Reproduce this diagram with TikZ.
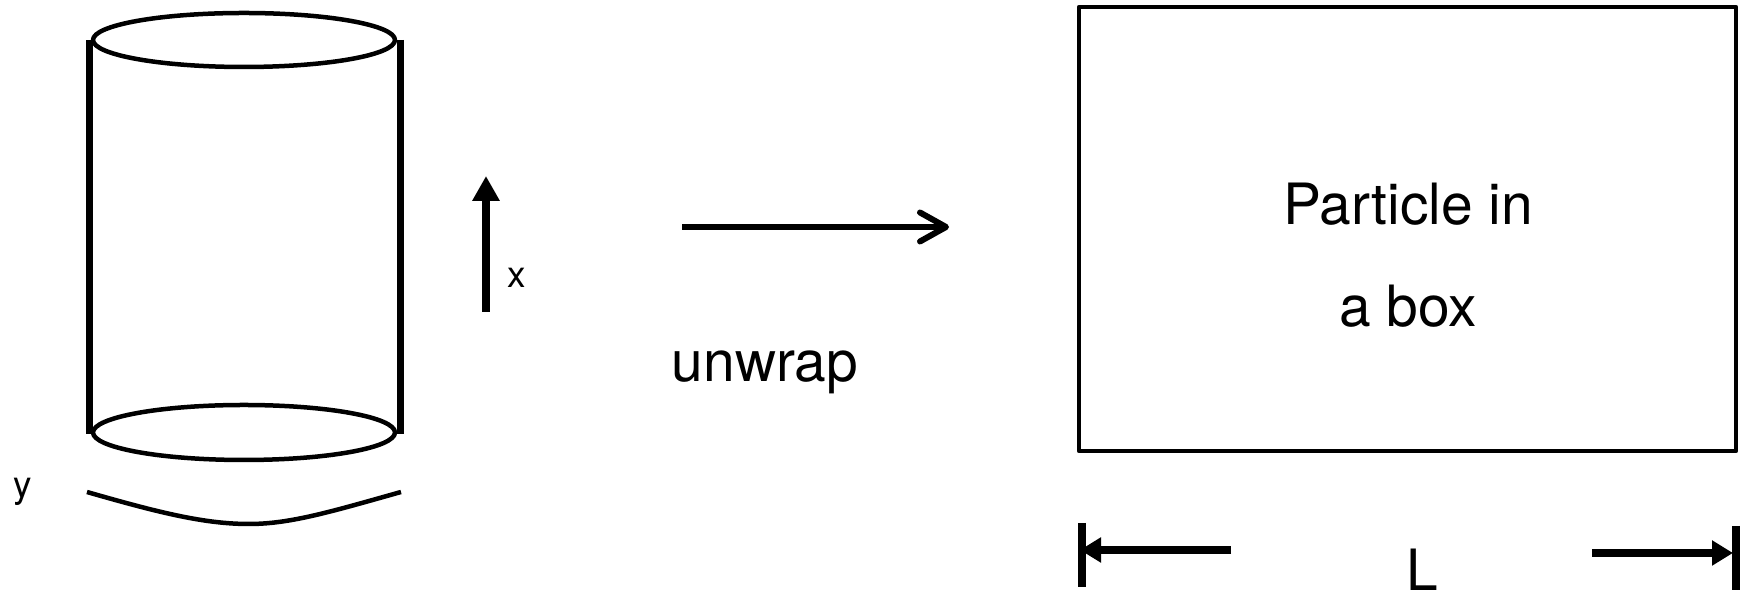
\documentclass[tikz,border=0pt]{standalone}
\usepackage{fontspec}
\setmainfont{TeX Gyre Heros}
\usetikzlibrary{arrows.meta}

\begin{document}
\begin{tikzpicture}[line join=round,
        rim/.style={line width=0.45mm},
        wall/.style={line width=0.75mm},
        big/.style={font=\fontsize{16.2}{19}\selectfont, inner sep=0pt},
        small/.style={font=\fontsize{10.5}{12}\selectfont, inner sep=0pt}]
        \useasboundingbox (0,0) rectangle (17.46,6.04);

        % cylinder
        \draw[rim] (2.44,5.64) ellipse (1.51 and 0.27);
        \draw[rim] (2.44,1.715) ellipse (1.51 and 0.275);
        \draw[wall] (0.895,5.64) -- (0.895,1.70);
        \draw[wall] (4.005,5.64) -- (4.005,1.70);

        % circumference
        \draw[rim] (0.87,1.12) .. controls (1.6,0.91) and (2.05,0.80) .. (2.49,0.80)
            .. controls (2.9,0.80) and (3.3,0.92) .. (4.01,1.12);
        \node[small, anchor=base] (ylab) at (0.225,1.06) {y};

        % axis along the cylinder
        \coordinate (xfoot) at (4.86,2.92);
        \coordinate (xtip) at (4.86,4.28);
        \draw[-{Triangle[length=2.5mm,width=2.6mm]}, line width=0.8mm] (xfoot) -- (xtip);
        \node[small, anchor=base] (xlab) at (5.165,3.16) {x};

        % unwrap arrow
        \coordinate (wrapfrom) at (6.82,3.77);
        \coordinate (wrapto) at (9.49,3.77);
        \draw[-{Straight Barb[length=2.6mm,width=2.9mm,round]}, line width=0.6mm] (wrapfrom) -- (wrapto);
        \node[big, anchor=base] (unwrap) at (7.65,2.22) {unwrap};

        % the box
        \node[draw, rim, minimum width=6.57cm, minimum height=4.44cm, inner sep=0pt] (box) at (14.075,3.75) {};
        \node[big, anchor=base] (boxtop) at (14.08,3.79) {Particle in};
        \node[big, anchor=base] (boxbot) at (14.08,2.77) {a box};

        % width L
        \coordinate (lbartop) at (10.82,0.81);
        \coordinate (lbarbot) at (10.82,0.17);
        \coordinate (rbartop) at (17.36,0.78);
        \coordinate (rbarbot) at (17.36,0.14);
        \draw[wall] (lbartop) -- (lbarbot);
        \draw[wall] (rbartop) -- (rbarbot);

        \coordinate (ltail) at (12.31,0.54);
        \coordinate (lhead) at (10.80,0.54);
        \coordinate (rtail) at (15.92,0.51);
        \coordinate (rhead) at (17.33,0.51);
        \draw[-{Triangle[length=2.1mm,width=2.4mm]}, line width=0.8mm] (ltail) -- (lhead);
        \draw[-{Triangle[length=2.1mm,width=2.4mm]}, line width=0.8mm] (rtail) -- (rhead);
        \node[big, anchor=base] (Llab) at (14.22,0.13) {L};
    \end{tikzpicture}
\end{document}
